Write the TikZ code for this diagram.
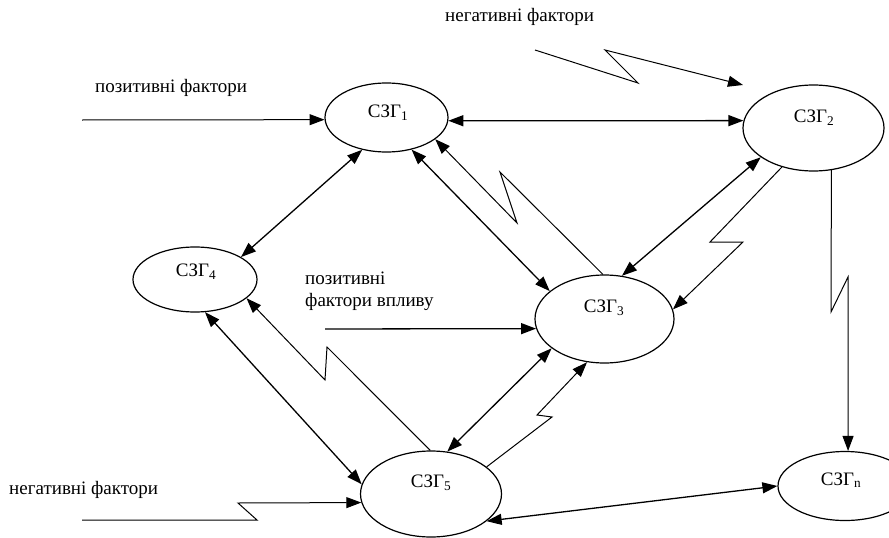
\documentclass[tikz,border=0pt]{standalone}
\usepackage{fontspec}
\setmainfont{Liberation Serif}
\usetikzlibrary{arrows.meta,shapes.geometric}

\begin{document}
\begin{tikzpicture}[x=1pt,y=-1pt,
  every node/.style={font=\fontsize{19}{22}\selectfont},
  state/.style={draw, ellipse, line width=1.2pt, inner sep=0pt},
  tip/.style={-{Triangle[length=15pt,width=11pt]}},
  both/.style={{Triangle[length=15pt,width=11pt]}-{Triangle[length=15pt,width=11pt]}},
  link/.style={line width=1.3pt},
  zig/.style={line width=1pt},
  caption/.style={anchor=west, inner sep=0pt, align=left}
]
\useasboundingbox (0,0) rectangle (889,538);

% states of the system
\node[state, minimum width=123pt, minimum height=69pt] (g1) at (386.5,117.5) {};
\node[state, minimum width=141pt, minimum height=86pt] (g2) at (813.5,128) {};
\node[state, minimum width=139pt, minimum height=88pt] (g3) at (604.5,319) {};
\node[state, minimum width=124pt, minimum height=65pt] (g4) at (195,279.5) {};
\node[state, minimum width=141pt, minimum height=86pt] (g5) at (431,494) {};
\node[state, minimum width=134pt, minimum height=69pt] (gn) at (845,486) {};

\node (t1) at (388,113) {СЗГ\textsubscript{1}};
\node (t2) at (814,118) {СЗГ\textsubscript{2}};
\node (t3) at (604,308) {СЗГ\textsubscript{3}};
\node (t4) at (196,272) {СЗГ\textsubscript{4}};
\node (t5) at (431,483) {СЗГ\textsubscript{5}};
\node (tn) at (841,480) {СЗГ\textsubscript{n}};

% captions
\node[caption] (c1) at (95,88) {позитивні фактори};
\node[caption] (c2) at (445,17) {негативні фактори};
\node[caption] (c3) at (305,291) {позитивні\\фактори впливу};
\node[caption] (c4) at (9,490) {негативні фактори};

% external influences
\coordinate (p1) at (82,120);
\draw[tip, zig] (p1) -- (g1.182);
\coordinate (n1) at (535,50);
\coordinate (n1e) at (743,85);
\draw[tip, zig] (n1) -- (638,83) -- (605,50) -- (n1e);
\coordinate (p2) at (325,329);
\draw[tip, link] (p2) -- (g3.188.2);
\coordinate (n2) at (82,520);
\draw[tip, zig] (n2) -- (257,520) -- (238,503) -- (g5.187.2);

% two-way links between states
\draw[both, link] (g1.-3.3) -- (g2.174.3);
\draw[both, link] (g1.233.3) -- (g4.26.6);
\draw[both, link] (g1.-52.8) -- (g3.153.7);
\draw[both, link] (g2.209.3) -- (g3.68.1);
\draw[both, link] (g4.-73.4) -- (g5.172);
\draw[both, link] (g3.209) -- (g5.69.3);
\draw[both, link] (g5.-26.6) -- (gn.180.9);

% disturbed transitions
\draw[tip, zig] (g3.92) -- (500,172) -- (517,223) -- (g1.-24.3);
\draw[tip, zig] (g2.231.7) -- (710,242) -- (743,242) -- (g3.8);
\draw[tip, zig] (g2.-67.2) -- (831,312) -- (848,277) -- (gn.85);
\draw[tip, zig] (g5.91.3) -- (327,347) -- (325,380) -- (g4.-20.4);
\draw[tip, zig] (g5.26.6) -- (552,417) -- (537,415) -- (g3.248.3);
\end{tikzpicture}
\end{document}
